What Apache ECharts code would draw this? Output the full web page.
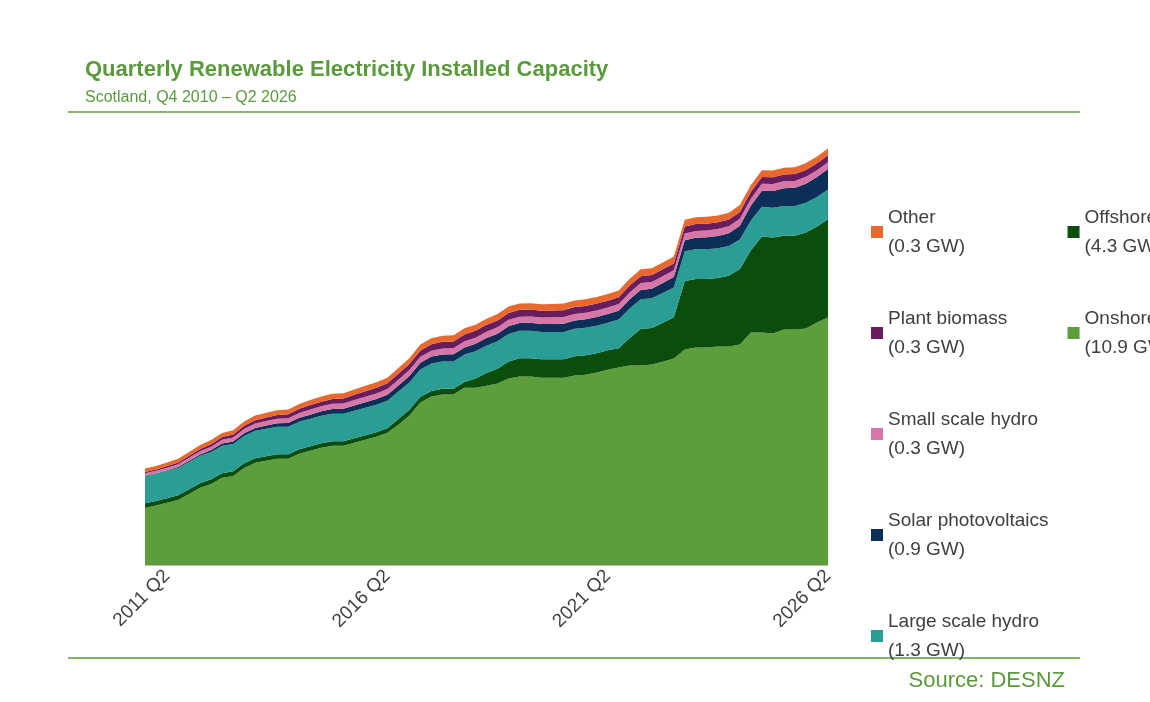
<!DOCTYPE html>
<html><head><meta charset="utf-8">
<script src="https://cdn.jsdelivr.net/npm/echarts@6/dist/echarts.min.js"></script>
<style>html,body{margin:0;padding:0;background:#fff}#c{width:1150px;height:702px}</style>
</head><body><div id="c"></div>
<script>
const quarters = [];
(function(){ quarters.push('2010 Q4'); for (let y=2011;y<=2026;y++){ for(let q=1;q<=4;q++){ if(y===2026&&q>2)break; quarters.push(y+' Q'+q);} } })();
const shownTicks = ['2011 Q2','2016 Q2','2021 Q2','2026 Q2'];
const seriesNames = ['Onshore wind','Offshore wind','Large scale hydro','Solar photovoltaics','Small scale hydro','Plant biomass','Other'];
const latestGW = ['10.9','4.3','1.3','0.9','0.3','0.3','0.3'];
const colors = ['#5b9e3b','#0b4d0b','#2a9d94','#0b2f57','#d677a8','#6a1d5e','#e8682d'];
const onshore = [2.50,2.60,2.72,2.85,3.11,3.38,3.55,3.82,3.90,4.25,4.47,4.56,4.65,4.65,4.87,5.00,5.13,5.22,5.22,5.35,5.48,5.61,5.79,6.14,6.54,7.11,7.37,7.46,7.46,7.76,7.76,7.85,7.94,8.16,8.25,8.25,8.20,8.20,8.20,8.29,8.33,8.42,8.55,8.64,8.73,8.73,8.77,8.90,9.04,9.43,9.52,9.52,9.56,9.56,9.65,10.18,10.18,10.13,10.31,10.31,10.35,10.61,10.83];
const offshore = [0.2,0.2,0.2,0.2,0.2,0.2,0.2,0.2,0.2,0.2,0.2,0.2,0.2,0.2,0.2,0.2,0.2,0.2,0.2,0.2,0.2,0.2,0.2,0.25,0.25,0.25,0.25,0.25,0.25,0.25,0.4,0.55,0.65,0.75,0.8,0.8,0.8,0.8,0.8,0.85,0.85,0.85,0.85,0.85,1.2,1.6,1.6,1.7,1.8,3.0,3.0,3.0,3.0,3.1,3.3,3.6,4.2,4.2,4.1,4.1,4.2,4.2,4.3];
const largeHydro = [1.2,1.2,1.2,1.2,1.2,1.2,1.2,1.2,1.2,1.2,1.2,1.2,1.2,1.2,1.2,1.2,1.2,1.2,1.2,1.2,1.2,1.2,1.2,1.2,1.2,1.2,1.2,1.2,1.2,1.2,1.2,1.2,1.2,1.2,1.2,1.2,1.2,1.2,1.2,1.2,1.2,1.2,1.2,1.25,1.3,1.3,1.3,1.3,1.3,1.3,1.3,1.3,1.3,1.3,1.3,1.3,1.3,1.3,1.3,1.3,1.3,1.3,1.3];
const solar = [0.02,0.02,0.03,0.04,0.05,0.06,0.08,0.1,0.11,0.12,0.13,0.14,0.15,0.16,0.17,0.18,0.2,0.21,0.22,0.23,0.24,0.25,0.26,0.27,0.28,0.29,0.3,0.3,0.31,0.31,0.32,0.33,0.33,0.34,0.34,0.35,0.35,0.35,0.36,0.36,0.37,0.38,0.38,0.39,0.4,0.41,0.42,0.44,0.46,0.48,0.5,0.52,0.54,0.56,0.6,0.65,0.7,0.74,0.78,0.8,0.84,0.87,0.9];
const smallHydro = [0.1,0.1,0.11,0.12,0.13,0.14,0.15,0.16,0.17,0.18,0.19,0.2,0.2,0.21,0.21,0.22,0.22,0.23,0.23,0.24,0.24,0.25,0.25,0.25,0.26,0.26,0.26,0.27,0.27,0.27,0.27,0.28,0.28,0.28,0.28,0.28,0.28,0.29,0.29,0.29,0.29,0.29,0.29,0.29,0.3,0.3,0.3,0.3,0.3,0.3,0.3,0.3,0.3,0.3,0.3,0.3,0.3,0.3,0.3,0.3,0.3,0.3,0.3];
const biomass = [0.05,0.06,0.07,0.08,0.09,0.1,0.11,0.12,0.13,0.14,0.15,0.16,0.17,0.18,0.19,0.2,0.2,0.21,0.22,0.23,0.24,0.25,0.25,0.26,0.27,0.28,0.28,0.29,0.29,0.3,0.3,0.3,0.3,0.3,0.3,0.3,0.3,0.3,0.3,0.3,0.3,0.3,0.3,0.3,0.3,0.3,0.3,0.3,0.3,0.3,0.3,0.3,0.3,0.3,0.3,0.3,0.3,0.3,0.3,0.3,0.3,0.3,0.3];
const other = [0.15,0.15,0.16,0.16,0.17,0.17,0.18,0.18,0.19,0.19,0.2,0.2,0.2,0.21,0.21,0.22,0.22,0.22,0.23,0.23,0.24,0.24,0.25,0.25,0.25,0.26,0.26,0.26,0.27,0.27,0.27,0.27,0.28,0.28,0.28,0.28,0.28,0.28,0.29,0.29,0.29,0.29,0.29,0.29,0.3,0.3,0.3,0.3,0.3,0.3,0.3,0.3,0.3,0.3,0.3,0.3,0.3,0.3,0.3,0.3,0.3,0.3,0.3];
const values = [onshore,offshore,largeHydro,solar,smallHydro,biomass,other];
const green = '#5a9a3c';
const chart = echarts.init(document.getElementById('c'));
chart.setOption({
  animation:false,
  title:[{text:'Quarterly Renewable Electricity Installed Capacity',left:80,top:54,textStyle:{color:green,fontSize:22,fontWeight:'bold',fontFamily:'Liberation Sans'}},
         {text:'Scotland, Q4 2010 – Q2 2026',left:80,top:85,textStyle:{color:green,fontSize:16,fontWeight:'normal',fontFamily:'Liberation Sans'}},
         {text:'Source: DESNZ',right:80,top:665,textStyle:{color:green,fontSize:22,fontWeight:'normal',fontFamily:'Liberation Sans'}}],
  graphic:[{type:'line',shape:{x1:68,y1:112,x2:1080,y2:112},style:{stroke:green,lineWidth:1.5}},
           {type:'line',shape:{x1:68,y1:658,x2:1080,y2:658},style:{stroke:green,lineWidth:1.5}}],
  legend:{orient:'vertical',left:866,top:186,itemWidth:12,itemHeight:12,itemGap:19,icon:'rect',
    data:seriesNames.slice().reverse(),
    formatter:function(n){return n+'\n('+latestGW[seriesNames.indexOf(n)]+' GW)';},
    textStyle:{fontSize:19,color:'#404040',fontFamily:'Liberation Sans',lineHeight:29,padding:[24,0,0,0]}},
  grid:{left:145,right:322,top:148,bottom:137},
  xAxis:{type:'category',data:quarters,boundaryGap:false,
    axisLine:{lineStyle:{color:'#bbb'}},axisTick:{show:false},
    axisLabel:{rotate:45,fontSize:19,color:'#404040',fontFamily:'Liberation Sans',
      interval:function(i,v){return shownTicks.indexOf(v)>=0;}}},
  yAxis:{type:'value',min:0,max:18.25,show:false,splitLine:{show:false}},
  series:seriesNames.map((n,k)=>({name:n,type:'line',stack:'t',data:values[k],symbol:'none',
    lineStyle:{width:0},areaStyle:{color:colors[k],opacity:1},itemStyle:{color:colors[k]}}))
});
</script></body></html>
